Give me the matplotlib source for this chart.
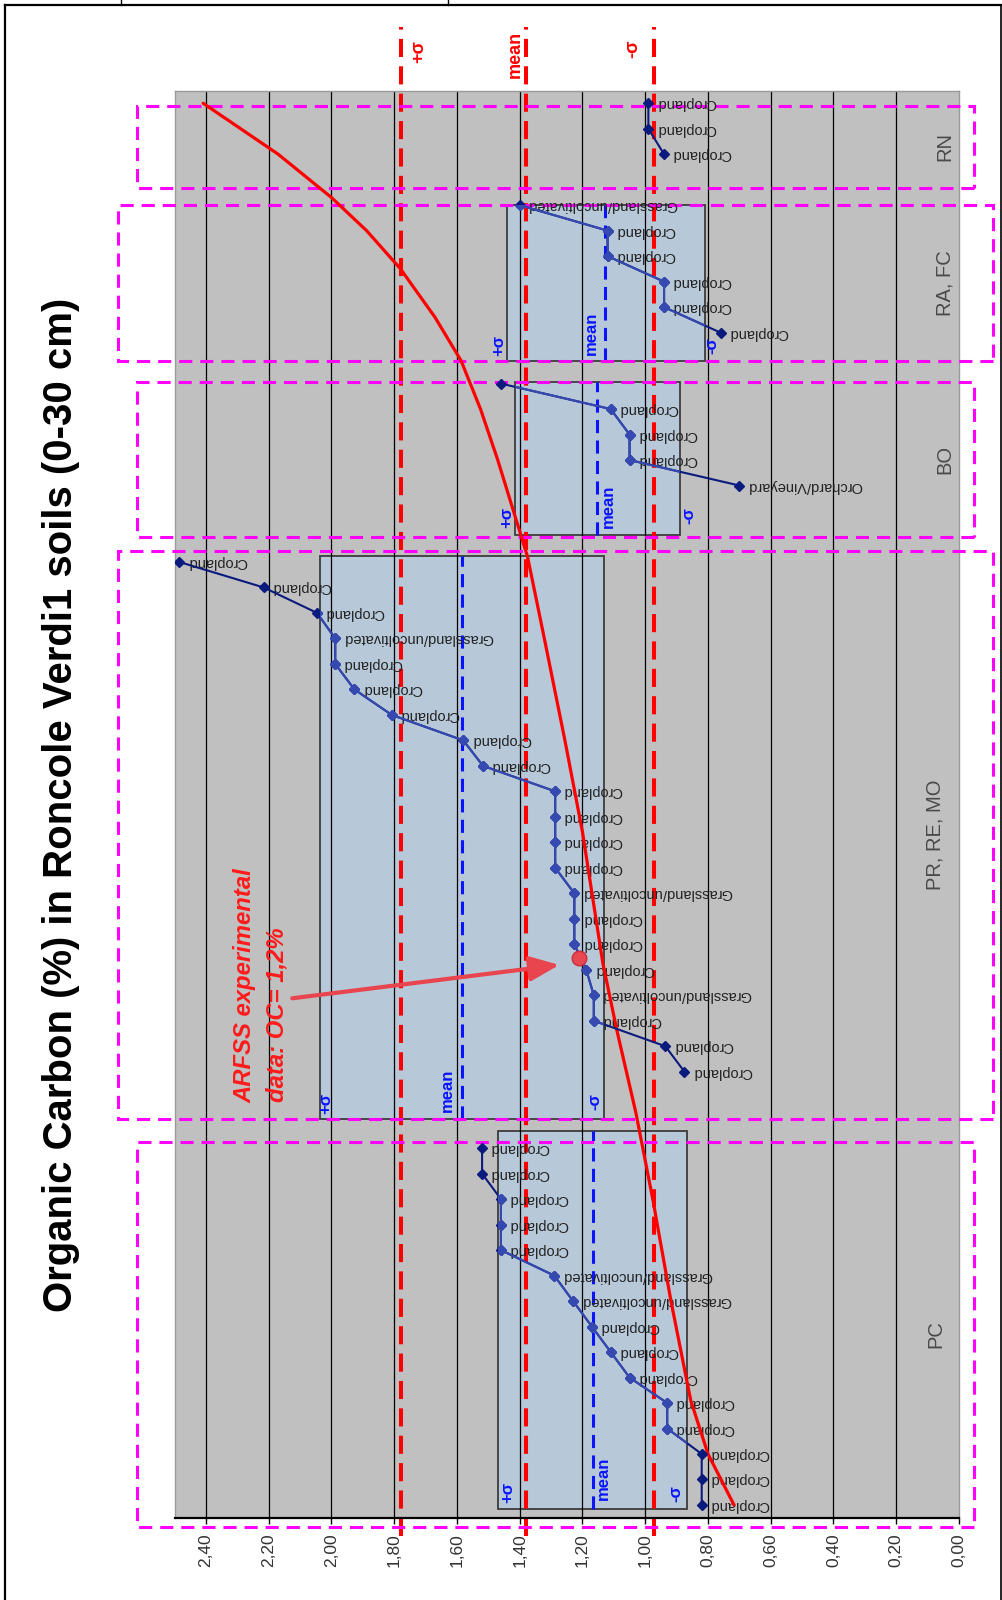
import numpy as np
import matplotlib
matplotlib.use("Agg")
import matplotlib.pyplot as plt
from matplotlib.patches import Rectangle
from matplotlib.lines import Line2D

plt.rcParams['font.family'] = ['Liberation Sans', 'DejaVu Sans']

# ---------------- data ----------------
title = "Organic Carbon (%) in Roncole Verdi1 soils (0-30 cm)"
group_names = ["PC", "PR, RE, MO", "BO", "RA, FC", "RN"]
gap_after = [2, 2, 1, 1, 0]

pc_values = [0.82, 0.82, 0.82, 0.93, 0.93, 1.05, 1.11, 1.17, 1.23, 1.29,
             1.46, 1.46, 1.46, 1.52, 1.52]
pc_labels = ["Cropland"] * 8 + ["Grassland/uncoltivated"] * 2 + ["Cropland"] * 5

pr_values = [0.875, 0.936, 1.164, 1.164, 1.188, 1.226, 1.226, 1.226, 1.287, 1.287,
             1.287, 1.287, 1.517, 1.580, 1.808, 1.927, 1.988, 1.988, 2.046, 2.216, 2.485]
pr_labels = ["Cropland", "Cropland", "Cropland", "Grassland/uncoltivated", "Cropland",
             "Cropland", "Cropland", "Grassland/uncoltivated", "Cropland", "Cropland",
             "Cropland", "Cropland", "Cropland", "Cropland", "Cropland", "Cropland",
             "Cropland", "Grassland/uncoltivated", "Cropland", "Cropland", "Cropland"]

bo_values = [0.70, 1.05, 1.05, 1.11, 1.46]
bo_labels = ["Orchard/Vineyard", "Cropland", "Cropland", "Cropland", ""]

ra_values = [0.76, 0.94, 0.94, 1.12, 1.12, 1.40]
ra_labels = ["Cropland"] * 5 + ["Grassland/uncoltivated"]

rn_values = [0.94, 0.99, 0.99]
rn_labels = ["Cropland"] * 3

group_values = [pc_values, pr_values, bo_values, ra_values, rn_values]
group_labels = [pc_labels, pr_labels, bo_labels, ra_labels, rn_labels]

# group statistics (mean, +sigma, -sigma) for the boxed groups
box_mean = [1.168, 1.585, 1.155, 1.128, None]
box_plus = [1.47, 2.037, 1.415, 1.442, None]
box_minus = [0.868, 1.131, 0.89, 0.811, None]

# overall statistics
all_mean, all_plus, all_minus = 1.38, 1.777, 0.972

# fitted red curve (slot, value)
curve_k = [0, 2, 4.1, 8, 12, 15.4, 18.6, 21.25, 26.4, 30, 33.9, 37.2, 39, 41, 43,
           44.9, 46.6, 48.5, 50, 51.3, 53, 55]
curve_v = [0.717, 0.80, 0.855, 0.918, 0.976, 1.03, 1.09, 1.135, 1.2, 1.256, 1.32,
           1.375, 1.42, 1.47, 1.525, 1.587, 1.67, 1.78, 1.888, 2.0, 2.17, 2.409]

arfss_value = 1.21
tick_values = [0.0, 0.2, 0.4, 0.6, 0.8, 1.0, 1.2, 1.4, 1.6, 1.8, 2.0, 2.2, 2.4]

# ---------------- layout ----------------
box_k = [(-0.16, 14.68), (15.14, 37.23), (38.04, 44.08), (44.9, 51.02), None]
region_k = [(-0.86, 14.25), (15.14, 37.45), (38.0, 44.08), (44.88, 51.02), (51.69, 54.9)]
region_wide = [False, True, False, True, False]
region_label_x = [0.075, 0.075, 0.045, 0.045, 0.045]
# box label anchors (value, slot) for +sigma, mean, -sigma
box_label_pos = [
    [(1.439, 0.51), (1.135, 1.06), (0.902, 0.43)],
    [(2.019, 15.77), (1.631, 16.28), (1.161, 15.82)],
    [(1.442, 38.73), (1.119, 39.17), (0.862, 38.84)],
    [(1.466, 45.5), (1.173, 45.97), (0.789, 45.5)],
    None,
]

W, H = 1003, 1600
fig = plt.figure(figsize=(W / 100, H / 100), dpi=100)
fig.patch.set_facecolor('white')
ax = fig.add_axes([174.6 / W, 1 - 1517.7 / H, (959 - 174.6) / W, (1517.7 - 90.5) / H])
ax.set_xlim(2.5, 0)
ax.set_ylim(-0.5, 55.5)
ax.set_facecolor('#c0c0c0')
for s in ['top', 'left', 'right']:
    ax.spines[s].set_color('#9a9a9a')
    ax.spines[s].set_linewidth(1.0)
ax.spines['bottom'].set_color('black')
ax.spines['bottom'].set_linewidth(1.6)
ax.set_yticks([])
ax.set_xticks(tick_values)
ax.set_xticklabels([f"{v:.2f}".replace('.', ',') for v in tick_values],
                   rotation=90, fontsize=12.5, color='#333333')
ax.tick_params(axis='x', length=4.5, width=1, color='black', pad=6.5)

for v in tick_values[1:]:
    ax.axvline(v, color='black', lw=0.9, zorder=1.5)

# slot positions
slots = []
start = 0
for vals, g in zip(group_values, gap_after):
    slots.append(np.arange(start, start + len(vals)))
    start += len(vals) + g

navy = '#0b1a7d'
inner = '#3549b0'
box_patches = []
for i in range(5):
    if box_k[i] is None:
        box_patches.append(None)
        continue
    k0, k1 = box_k[i]
    r = Rectangle((box_minus[i], k0), box_plus[i] - box_minus[i], k1 - k0,
                  facecolor='#b7c8d9', edgecolor='#3c3c3c', lw=1.3, zorder=1)
    ax.add_patch(r)
    box_patches.append(r)
    ax.plot([box_mean[i]] * 2, [k0, k1], color='#0a14ff', lw=2.2,
            dashes=(4.3, 2.4), zorder=2)
    for (pv, pk), s in zip(box_label_pos[i], ["+σ", "mean", "-σ"]):
        ax.text(pv, pk, s, rotation=90, ha='center', va='center', color='#0a14ff',
                fontweight='bold', fontsize=12, zorder=7)

# overall red dashed lines
for val in [all_plus, all_mean, all_minus]:
    ax.plot([val, val], [-1.2, 58.0], color='#ff0000', lw=2.9, dashes=(4.5, 2.3),
            zorder=2.5, clip_on=False)
for val, s, dx, kk in [(all_plus, "+σ", 1.721, 57.01), (all_mean, "mean", 1.415, 56.93),
                       (all_minus, "-σ", 1.039, 57.13)]:
    ax.text(dx, kk, s, rotation=90, ha='center', va='center', color='#ff0000',
            fontweight='bold', fontsize=13, clip_on=False)

# magenta group regions
for (k0, k1), wide in zip(region_k, region_wide):
    x0, x1 = (-0.107, 2.679) if wide else (-0.047, 2.619)
    ax.add_patch(Rectangle((x0, k0), x1 - x0, k1 - k0, fill=False, edgecolor='#ff00ff',
                           lw=2.2, linestyle=(0, (4.3, 2.6)), zorder=4, clip_on=False))
for (k0, k1), name, lx in zip(region_k, group_names, region_label_x):
    ax.text(lx, (k0 + k1) / 2, name, rotation=90, ha='center', va='center',
            fontsize=14.5, color='#4a4a4a', zorder=5)

# red curve
ax.plot(curve_v, curve_k, color='#ff0000', lw=2.3, zorder=5.5,
        solid_capstyle='round', solid_joinstyle='round')

# series
for i in range(5):
    vals, ks, labs = group_values[i], slots[i], group_labels[i]
    ax.plot(vals, ks, color=navy, lw=1.5, marker='D', ms=5.2, mec=navy, mfc=navy, zorder=6)
    if box_patches[i] is not None:
        ln, = ax.plot(vals, ks, color=inner, lw=1.5, marker='D', ms=5.2, mec=inner,
                      mfc=inner, zorder=6.1)
        ln.set_clip_path(box_patches[i])
    for v, k, lab in zip(vals, ks, labs):
        if lab:
            ax.annotate(lab, (v, k), xytext=(8, 0), textcoords='offset pixels',
                        rotation=180, rotation_mode='anchor', ha='right', va='center',
                        fontsize=10.5, color='#222222', zorder=5)

# ARFSS annotation
t1 = ax.text(2.277, 15.77, "ARFSS experimental", rotation=90, rotation_mode='anchor',
             ha='left', va='center', color='#ff1a1a', fontweight='bold', fontstyle='italic',
             fontsize=17, zorder=8)
t2 = ax.text(2.174, 15.8, "data: OC= 1,2%", rotation=90, rotation_mode='anchor',
             ha='left', va='center', color='#ff1a1a', fontweight='bold', fontstyle='italic',
             fontsize=17, zorder=8)
ax.annotate('', xy=(1.274, 21.19), xytext=(2.125, 19.88),
            arrowprops=dict(arrowstyle='-|>,head_length=0.9,head_width=0.38',
                            color='#e8454f', lw=3.0, shrinkA=0, shrinkB=0,
                            mutation_scale=20), zorder=8)
ax.plot([arfss_value], [21.45], 'o', ms=10.5, color='#e8474f', mec='#c8303c',
        mew=1, zorder=9)

# title
tt = fig.text(61 / W, 1 - 805 / H, title, rotation=90, ha='center', va='center',
              fontsize=26, fontweight='bold', color='black')

# fit text lengths
fig.canvas.draw()
rend = fig.canvas.get_renderer()
for t, target in [(tt, 1015), (t1, 235)]:
    bb = t.get_window_extent(rend)
    t.set_fontsize(t.get_fontsize() * target / max(bb.width, bb.height))
t2.set_fontsize(t1.get_fontsize())

# page frame
def fl(xs, ys, lw=1.5):
    fig.add_artist(Line2D([x / W for x in xs], [1 - y / H for y in ys],
                          transform=fig.transFigure, color='black', lw=lw))
fl([5, 1003], [4.5, 4.5], 1.6)
fl([5.5, 5.5], [4.5, 1600], 1.6)
fl([1001, 1001], [4.5, 1600], 1.2)
fl([121, 121], [0, 4.5], 1.0)
fl([448, 448], [0, 4.5], 1.0)

fig.savefig("out.png", dpi=100)
